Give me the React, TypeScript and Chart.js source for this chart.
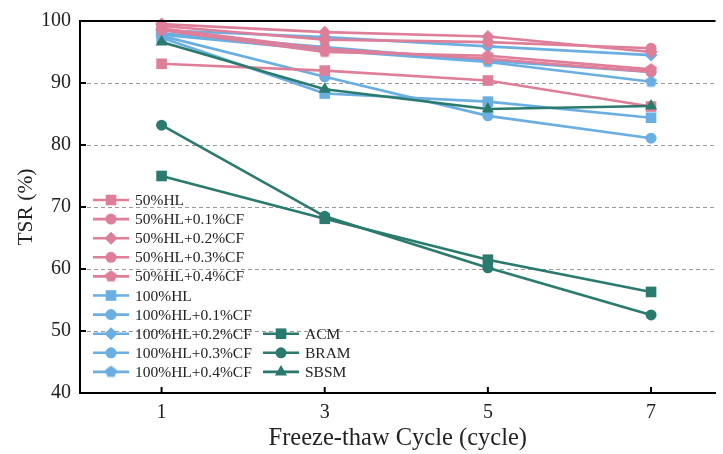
import React, { useEffect, useRef } from "react";
import { Chart, registerables } from "chart.js";

Chart.register(...registerables);

// ---- data ----
const cycles = [1, 3, 5, 7];
const xTicks = [1, 3, 5, 7];
const yTicks = [40, 50, 60, 70, 80, 90, 100];

const hl50 = [93.1, 92.0, 90.4, 86.2];
const hl50cf01 = [98.8, 95.5, 93.9, 91.8];
const hl50cf02 = [99.5, 98.2, 97.5, 95.0];
const hl50cf03 = [99.2, 97.0, 96.6, 95.6];
const hl50cf04 = [98.5, 95.0, 94.4, 92.2];

const hl100 = [97.3, 88.3, 87.0, 84.4];
const hl100cf01 = [97.6, 91.0, 84.7, 81.1];
const hl100cf02 = [98.5, 97.4, 95.9, 94.5];
const hl100cf03 = [98.0, 95.8, 93.6, 91.8];
const hl100cf04 = [97.8, 95.3, 93.4, 90.2];

const acm = [75.0, 68.1, 61.5, 56.3];
const bram = [83.2, 68.5, 60.2, 52.6];
const sbsm = [96.6, 89.0, 85.8, 86.3];

const seriesLabels = [
  "50%HL",
  "50%HL+0.1%CF",
  "50%HL+0.2%CF",
  "50%HL+0.3%CF",
  "50%HL+0.4%CF",
  "100%HL",
  "100%HL+0.1%CF",
  "100%HL+0.2%CF",
  "100%HL+0.3%CF",
  "100%HL+0.4%CF",
  "ACM",
  "BRAM",
  "SBSM",
];
const seriesValues = [
  hl50, hl50cf01, hl50cf02, hl50cf03, hl50cf04,
  hl100, hl100cf01, hl100cf02, hl100cf03, hl100cf04,
  acm, bram, sbsm,
];

const PINK = "#df7e99";
const BLUE = "#6aaee2";
const TEAL = "#2a7a6d";
const FONT = "'Liberation Serif', 'Times New Roman', serif";

function pentagon(color: string, r: number): HTMLCanvasElement {
  const c = document.createElement("canvas");
  const s = Math.ceil(r * 2 + 2);
  c.width = s;
  c.height = s;
  const g = c.getContext("2d")!;
  g.fillStyle = color;
  g.beginPath();
  for (let i = 0; i < 5; i++) {
    const a = -Math.PI / 2 + (i * 2 * Math.PI) / 5;
    const px = s / 2 + r * Math.cos(a);
    const py = s / 2 + r * Math.sin(a);
    if (i === 0) g.moveTo(px, py);
    else g.lineTo(px, py);
  }
  g.closePath();
  g.fill();
  return c;
}

export default function App() {
  const ref = useRef<HTMLCanvasElement | null>(null);

  useEffect(() => {
    document.body.style.margin = "0";
    const canvas = ref.current;
    if (!canvas) return;

    const pentPink = pentagon(PINK, 6.2);
    const pentBlue = pentagon(BLUE, 6.2);
    const styles: any[] = [
      { c: PINK, p: "rect", r: 7.5 },
      { c: PINK, p: "circle", r: 5.5 },
      { c: PINK, p: "rectRot", r: 6.5 },
      { c: PINK, p: "circle", r: 5.5 },
      { c: PINK, p: pentPink, r: 6 },
      { c: BLUE, p: "rect", r: 7.5 },
      { c: BLUE, p: "circle", r: 5.5 },
      { c: BLUE, p: "rectRot", r: 6.5 },
      { c: BLUE, p: "circle", r: 5.5 },
      { c: BLUE, p: pentBlue, r: 6 },
      { c: TEAL, p: "rect", r: 7.5 },
      { c: TEAL, p: "circle", r: 5.5 },
      { c: TEAL, p: "triangle", r: 7 },
    ];

    const datasets = seriesLabels.map((label, i) => ({
      label,
      data: cycles.map((x, j) => ({ x, y: seriesValues[i][j] })),
      borderColor: styles[i].c,
      backgroundColor: styles[i].c,
      pointBackgroundColor: styles[i].c,
      pointBorderColor: styles[i].c,
      pointStyle: styles[i].p,
      pointRadius: styles[i].r,
      pointBorderWidth: 0,
      borderWidth: 2.6,
      tension: 0,
      clip: false as any,
      order: i >= 10 ? -1 : i < 5 ? 1 : 2,
    }));

    const customPlugin = {
      id: "custom",
      beforeDatasetsDraw(chart: any) {
        const { ctx, chartArea } = chart;
        const ys = chart.scales.y;
        ctx.save();
        ctx.strokeStyle = "#9a9a9a";
        ctx.lineWidth = 1;
        ctx.setLineDash([4, 3]);
        for (const v of yTicks) {
          if (v === 40 || v === 100) continue;
          const py = Math.round(ys.getPixelForValue(v)) + 0.5;
          ctx.beginPath();
          ctx.moveTo(chartArea.left, py);
          ctx.lineTo(chartArea.right, py);
          ctx.stroke();
        }
        ctx.restore();
      },
      afterDatasetsDraw(chart: any) {
        const { ctx, chartArea } = chart;
        const ys = chart.scales.y;
        const xs = chart.scales.x;
        ctx.save();
        // top border
        ctx.strokeStyle = "#000";
        ctx.lineWidth = 2;
        ctx.setLineDash([]);
        ctx.beginPath();
        ctx.moveTo(chartArea.left - 1, chartArea.top);
        ctx.lineTo(chartArea.right, chartArea.top);
        ctx.stroke();
        // inner tick marks
        ctx.lineWidth = 2;
        for (const v of yTicks) {
          const py = ys.getPixelForValue(v);
          ctx.beginPath();
          ctx.moveTo(chartArea.left, py);
          ctx.lineTo(chartArea.left + 6, py);
          ctx.stroke();
        }
        for (const v of xTicks) {
          const px = xs.getPixelForValue(v);
          ctx.beginPath();
          ctx.moveTo(px, chartArea.bottom);
          ctx.lineTo(px, chartArea.bottom - 6);
          ctx.stroke();
        }
        // legend
        ctx.font = `15.5px ${FONT}`;
        ctx.textBaseline = "middle";
        ctx.textAlign = "left";
        const row0 = 200;
        const step = 19.1;
        chart.data.datasets.forEach((ds: any, i: number) => {
          let row: number, x0: number;
          if (i < 10) {
            row = i;
            x0 = 93;
          } else {
            row = i - 3;
            x0 = 263;
          }
          const cy = row0 + row * step;
          const lineLen = 36;
          ctx.strokeStyle = ds.borderColor;
          ctx.lineWidth = 2.6;
          ctx.beginPath();
          ctx.moveTo(x0, cy);
          ctx.lineTo(x0 + lineLen, cy);
          ctx.stroke();
          const ps = ds.pointStyle;
          ctx.fillStyle = ds.borderColor;
          const cx = x0 + lineLen / 2;
          if (typeof ps === "string") {
            ctx.beginPath();
            const r = ds.pointRadius;
            if (ps === "circle") {
              ctx.arc(cx, cy, r, 0, Math.PI * 2);
            } else if (ps === "rect") {
              const h = r * Math.SQRT1_2;
              ctx.rect(cx - h, cy - h, 2 * h, 2 * h);
            } else if (ps === "rectRot") {
              ctx.moveTo(cx, cy - r);
              ctx.lineTo(cx + r, cy);
              ctx.lineTo(cx, cy + r);
              ctx.lineTo(cx - r, cy);
              ctx.closePath();
            } else if (ps === "triangle") {
              ctx.moveTo(cx, cy - r);
              ctx.lineTo(cx + r * 0.87, cy + r * 0.5);
              ctx.lineTo(cx - r * 0.87, cy + r * 0.5);
              ctx.closePath();
            }
            ctx.fill();
          } else {
            ctx.drawImage(ps, cx - ps.width / 2, cy - ps.height / 2);
          }
          ctx.fillStyle = "#222";
          ctx.fillText(ds.label, x0 + lineLen + 6, cy + 1);
        });
        ctx.restore();
      },
    };

    const chart = new Chart(canvas, {
      type: "line",
      data: { datasets: datasets as any },
      options: {
        responsive: false,
        animation: false,
        devicePixelRatio: 1,
        layout: { padding: { top: 19, right: 2, left: 0, bottom: 0 } },
        plugins: {
          legend: { display: false },
          tooltip: { enabled: false },
        },
        scales: {
          x: {
            type: "linear",
            min: 0,
            max: 7.79,
            afterFit: (s: any) => {
              s.height = 61;
            },
            afterBuildTicks: (s: any) => {
              s.ticks = xTicks.map((v) => ({ value: v }));
            },
            grid: { display: false, drawTicks: false },
            border: { display: true, color: "#000", width: 2 },
            ticks: {
              color: "#222",
              font: { family: FONT, size: 20 },
              padding: 8,
              maxRotation: 0,
            },
            title: {
              display: true,
              text: "Freeze-thaw Cycle (cycle)",
              color: "#222",
              font: { family: FONT, size: 24.5 },
              padding: { top: 0, bottom: 1 },
            },
          },
          y: {
            min: 40,
            max: 100,
            afterFit: (s: any) => {
              s.width = 80;
            },
            afterBuildTicks: (s: any) => {
              s.ticks = yTicks.map((v) => ({ value: v }));
            },
            grid: { display: false, drawTicks: false },
            border: { display: true, color: "#000", width: 2 },
            ticks: {
              color: "#222",
              font: { family: FONT, size: 20 },
              padding: 9,
            },
            title: {
              display: true,
              text: "TSR (%)",
              color: "#222",
              font: { family: FONT, size: 21.5 },
              padding: { top: 13, bottom: 0 },
            },
          },
        },
      },
      plugins: [customPlugin],
    });

    return () => chart.destroy();
  }, []);

  return (
    <canvas
      ref={ref}
      width={723}
      height={454}
      style={{ display: "block", width: 723, height: 454 }}
    />
  );
}
